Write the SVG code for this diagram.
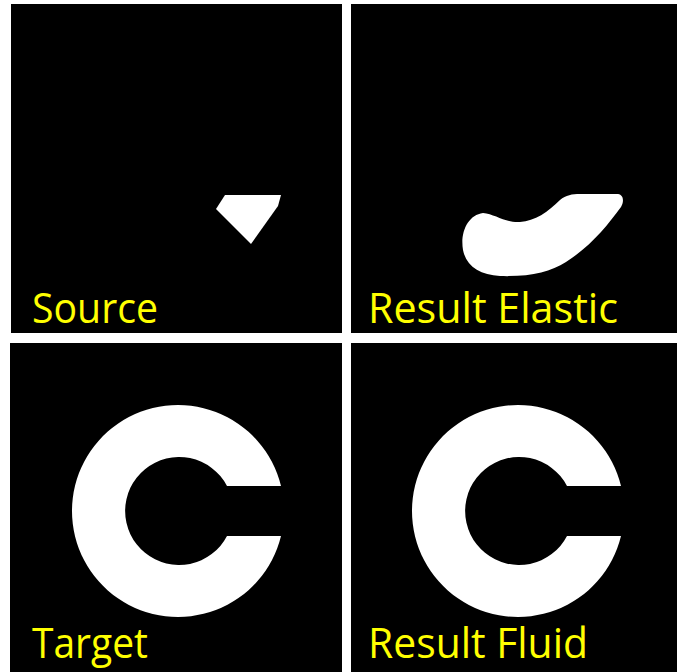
<svg xmlns="http://www.w3.org/2000/svg" width="677" height="672" viewBox="0 0 677 672">
<style>
.panel{fill:#000}
.shape{fill:#fff}
.label{fill:#ffff00;font-family:"Open Sans","Liberation Sans",sans-serif;font-size:42px}
</style>
<rect x="0" y="0" width="677" height="672" fill="#fff"/>
<g id="source">
<rect class="panel" x="11" y="4" width="331" height="329"/>
<polygon class="shape" points="225,195 281,195 278,206 251,244 216,209"/>
<text class="label" x="32" y="323" textLength="126" lengthAdjust="spacingAndGlyphs">Source</text>
</g>
<g id="result-elastic">
<rect class="panel" x="351" y="4" width="326" height="329"/>
<path class="shape" d="M483,213 C495,214 505,223 520,222 C535,221 548,212 560,200 C566,195 572,194 580,194 L618,194 C624,195 624,202 621,207 C607,226 591,246 566,262 C550,272 530,277 500,276 C480,275 466,266 463,250 C460,232 468,215 483,213 Z"/>
<text class="label" x="368" y="323" textLength="250" lengthAdjust="spacingAndGlyphs">Result Elastic</text>
</g>
<g id="target">
<rect class="panel" x="10" y="343" width="332" height="329"/>
<path class="shape" d="M281,486 A106,106 0 1 0 281,536 L227,536 A54,54 0 1 1 227,486 Z"/>
<text class="label" x="32" y="658" textLength="116" lengthAdjust="spacingAndGlyphs">Target</text>
</g>
<g id="result-fluid">
<rect class="panel" x="351" y="343" width="326" height="329"/>
<path class="shape" d="M621,486 A106,106 0 1 0 621,536 L567,536 A54,54 0 1 1 567,486 Z"/>
<text class="label" x="368" y="658" textLength="220" lengthAdjust="spacingAndGlyphs">Result Fluid</text>
</g>
<g id="connectors"/>
</svg>
